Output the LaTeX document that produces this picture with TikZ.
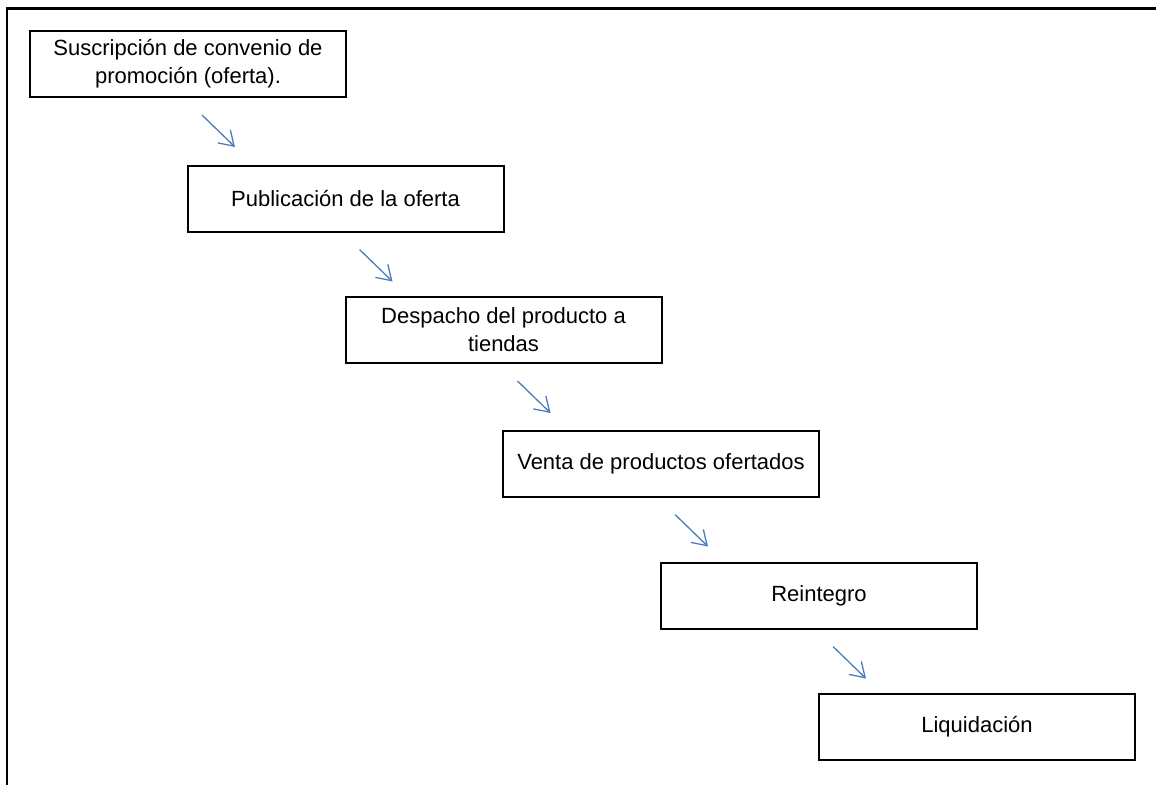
\documentclass[tikz,border=0pt]{standalone}
\usepackage{fontspec}
\setmainfont{Liberation Sans}
\usetikzlibrary{arrows.meta,calc}
\definecolor{arrowblue}{HTML}{4A7EBB}
\begin{document}
\begin{tikzpicture}[x=1pt,y=-1pt,
  stepbox/.style={draw=black,line width=2pt,minimum width=316pt,minimum height=66pt,inner sep=0pt,align=center,font=\fontsize{22}{28}\selectfont},
  arr/.style={draw=arrowblue,line width=1.3pt,-{Straight Barb[length=14pt,width=18pt,line width=1.3pt]}},
  frame/.style={line width=2.5pt}]
\useasboundingbox (0,0) rectangle (1156,785);
\draw[frame] (7,785) -- (7,8.5) -- (1156,8.5);
\node[stepbox] (b1) at (188,64) {Suscripción de convenio de\\promoción (oferta).};
\node[stepbox] (b2) at (345.5,198.5) {Publicación de la oferta};
\node[stepbox] (b3) at (503.5,330) {Despacho del producto a\\tiendas};
\node[stepbox] (b4) at (661,463.5) {Venta de productos ofertados};
\node[stepbox] (b5) at (819,595.5) {Reintegro};
\node[stepbox] (b6) at (977,727) {Liquidación};
\foreach \a/\b in {b1/b2,b2/b3,b3/b4,b4/b5,b5/b6}{
  \draw[arr] ($(\a.south west)+(173,17)$) -- ($(\a.south west)+(206,49)$);
}
\end{tikzpicture}
\end{document}
